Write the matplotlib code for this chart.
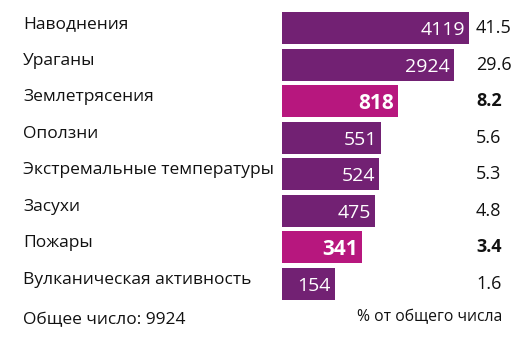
import numpy as np
import matplotlib
matplotlib.use('Agg')
import matplotlib.pyplot as plt
from matplotlib.transforms import blended_transform_factory, offset_copy

plt.rcParams['font.family'] = ['Open Sans', 'DejaVu Sans']

# data
categories = ['Наводнения', 'Ураганы', 'Землетрясения', 'Оползни',
              'Экстремальные температуры', 'Засухи', 'Пожары',
              'Вулканическая активность']
counts = [4119, 2924, 818, 551, 524, 475, 341, 154]
percents = [41.5, 29.6, 8.2, 5.6, 5.3, 4.8, 3.4, 1.6]
highlight = [False, False, True, False, False, False, True, False]
total_label = 'Общее число: 9924'
pct_label = '% от общего числа'

# colors
barColor = '#722173'
hiColor = '#b7177e'

W, H = 531, 345
fig = plt.figure(figsize=(W / 100, H / 100), dpi=100)

# axes placed in pixels: bars start at x=282, rows from y=10 to y=302
left, right = 282, 531
top, bottom = 10, 302
ax = fig.add_axes([left / W, 1 - bottom / H, (right - left) / W, (bottom - top) / H])

# log scale so the small bars still hold their labels
x0 = 72
px_per_ln = 46.0
ax.set_xscale('log')
ax.set_xlim(x0, x0 * np.exp((right - left) / px_per_ln))
ax.set_ylim(len(categories) - 0.5, -0.5)
ax.axis('off')

y = np.arange(len(categories))
colors = [hiColor if h else barColor for h in highlight]
ax.barh(y, counts, left=x0, height=0.87, color=colors)

trans = blended_transform_factory(fig.transFigure, ax.transData)
name_trans = offset_copy(trans, fig=fig, y=3, units='points')
for i in range(len(categories)):
    fig.text(23 / W, y[i], categories[i], transform=name_trans, ha='left', va='center',
             fontsize=12.5, color='#111111')
    wt = 'bold' if highlight[i] else 'normal'
    fs = 15 if highlight[i] else 14
    ax.annotate(str(counts[i]), (counts[i] + x0, y[i]), xytext=(-3, -1.5),
                textcoords='offset points', ha='right', va='center',
                color='white', fontsize=fs, fontweight=wt)
    fig.text(476 / W, y[i], f'{percents[i]:.1f}', transform=trans, ha='left',
             va='center', fontsize=13, fontweight=wt, color='#111111')

fig.text(23 / W, 1 - 320 / H, total_label, ha='left', va='center',
         fontsize=12.5, color='#111111')
fig.text(502 / W, 1 - 317 / H, pct_label, ha='right', va='center',
         fontsize=11.3, color='#111111')

fig.savefig('out.png', dpi=100)
